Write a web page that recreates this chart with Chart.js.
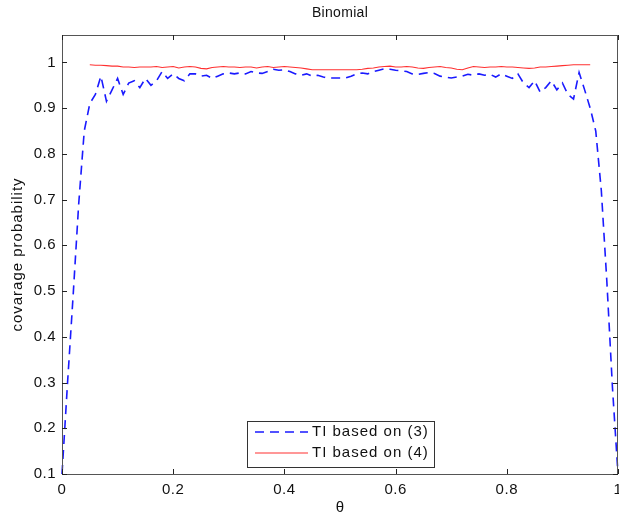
<!DOCTYPE html>
<html>
<head>
<meta charset="utf-8">
<script src="https://cdn.jsdelivr.net/npm/chart.js@4"></script>
<style>
  html, body { margin: 0; padding: 0; background: #fff; }
  #wrap { width: 619px; height: 519px; }
</style>
</head>
<body>
<div id="wrap"><canvas id="coverChart" width="619" height="519"></canvas></div>
<script>
// theta grid step for both series
const thetaStep = 0.01;

// TI based on (3): theta = 0 .. 1
const blueStart = 0;
const blueCoverage = [
    0.10, 0.30, 0.49, 0.69, 0.85, 0.91, 0.93, 0.97, 0.915, 0.94,
    0.965, 0.93, 0.955, 0.96, 0.945, 0.965, 0.95, 0.96, 0.98, 0.965,
    0.975, 0.965, 0.96, 0.975, 0.975, 0.97, 0.972, 0.965, 0.97, 0.975,
    0.977, 0.975, 0.977, 0.975, 0.98, 0.977, 0.976, 0.98, 0.985, 0.983,
    0.984, 0.98, 0.975, 0.972, 0.975, 0.97, 0.972, 0.968, 0.966, 0.966,
    0.966, 0.966, 0.97, 0.975, 0.977, 0.975, 0.98, 0.983, 0.986, 0.985,
    0.983, 0.982, 0.98, 0.975, 0.974, 0.976, 0.978, 0.976, 0.97, 0.968,
    0.966, 0.968, 0.97, 0.974, 0.972, 0.975, 0.972, 0.974, 0.968, 0.975,
    0.97, 0.965, 0.975, 0.955, 0.945, 0.96, 0.935, 0.945, 0.96, 0.94,
    0.955, 0.93, 0.92, 0.978, 0.94, 0.90, 0.85, 0.72, 0.52, 0.29,
    0.10
];

// TI based on (4): theta = 0.05 .. 0.95
const redStart = 0.05;
const redCoverage = [
    0.995, 0.994, 0.994, 0.993, 0.992, 0.992,
    0.990, 0.990, 0.989, 0.990, 0.990, 0.990, 0.991, 0.989, 0.990, 0.991,
    0.988, 0.990, 0.991, 0.990, 0.987, 0.986, 0.989, 0.990, 0.991, 0.990,
    0.990, 0.989, 0.990, 0.990, 0.988, 0.990, 0.991, 0.989, 0.990, 0.991,
    0.990, 0.989, 0.988, 0.986, 0.984, 0.984, 0.984, 0.984, 0.984, 0.984,
    0.984, 0.984, 0.984, 0.985, 0.987, 0.988, 0.990, 0.991, 0.992, 0.990,
    0.990, 0.991, 0.990, 0.988, 0.987, 0.989, 0.990, 0.991, 0.989, 0.988,
    0.985, 0.984, 0.988, 0.991, 0.990, 0.989, 0.990, 0.990, 0.991, 0.990,
    0.990, 0.989, 0.988, 0.987, 0.988, 0.990, 0.990, 0.991, 0.992, 0.993,
    0.994, 0.995, 0.995, 0.995, 0.995
];

const seriesLabels = ['TI based on (3)', 'TI based on (4)'];
const xTicks = [0, 0.2, 0.4, 0.6, 0.8, 1];
const yTicks = [0.1, 0.2, 0.3, 0.4, 0.5, 0.6, 0.7, 0.8, 0.9, 1];

const toPoints = (start, values) =>
    values.map((v, i) => ({ x: +(start + i * thetaStep).toFixed(2), y: v }));

const FONT = '"Liberation Sans", Arial, Helvetica, sans-serif';

// draws the MATLAB style frame, inward ticks, labels and legend
const matlabFrame = {
    id: 'matlabFrame',
    afterDatasetsDraw(chart) {
        const { ctx, chartArea: a, scales } = chart;
        const xs = scales.x, ys = scales.y;
        ctx.save();

        // box
        ctx.strokeStyle = '#555';
        ctx.lineWidth = 1;
        ctx.strokeRect(a.left + 0.5, a.top + 0.5, a.right - a.left - 1, a.bottom - a.top);

        // ticks
        ctx.strokeStyle = '#222';
        ctx.beginPath();
        xTicks.forEach(v => {
            const px = Math.round(xs.getPixelForValue(v)) + 0.5;
            ctx.moveTo(px, a.bottom); ctx.lineTo(px, a.bottom - 5);
            ctx.moveTo(px, a.top); ctx.lineTo(px, a.top + 5);
        });
        yTicks.forEach(v => {
            const py = Math.round(ys.getPixelForValue(v)) + 0.5;
            ctx.moveTo(a.left, py); ctx.lineTo(a.left + 5, py);
            ctx.moveTo(a.right, py); ctx.lineTo(a.right - 5, py);
        });
        ctx.stroke();

        // tick labels
        ctx.fillStyle = '#111';
        ctx.font = '15px ' + FONT;
        ctx.letterSpacing = '0.5px';
        ctx.textAlign = 'center';
        ctx.textBaseline = 'top';
        xTicks.forEach(v => {
            ctx.fillText(String(v), xs.getPixelForValue(v), a.bottom + 8);
        });
        ctx.textAlign = 'right';
        ctx.textBaseline = 'middle';
        yTicks.forEach(v => {
            ctx.fillText(String(v), a.left - 6, ys.getPixelForValue(v));
        });

        // title and axis labels
        ctx.textAlign = 'center';
        ctx.font = '14px ' + FONT;
        ctx.letterSpacing = '0.3px';
        ctx.fillText('Binomial', (a.left + a.right) / 2, 13);
        ctx.font = '15px ' + FONT;
        ctx.fillText('θ', (a.left + a.right) / 2, 508);
        ctx.letterSpacing = '1px';
        ctx.save();
        ctx.translate(18, (a.top + a.bottom) / 2);
        ctx.rotate(-Math.PI / 2);
        ctx.fillText('covarage probability', 0, 0);
        ctx.restore();

        // legend
        const lx = 247, ly = 421, lw = 187, lh = 46;
        ctx.fillStyle = '#fff';
        ctx.fillRect(lx, ly, lw, lh);
        ctx.strokeStyle = '#333';
        ctx.lineWidth = 1;
        ctx.strokeRect(lx + 0.5, ly + 0.5, lw, lh);
        chart.data.datasets.forEach((ds, i) => {
            const rowY = ly + 11 + i * 21;
            ctx.strokeStyle = ds.borderColor;
            ctx.lineWidth = ds.borderWidth;
            ctx.setLineDash(ds.borderDash || []);
            ctx.beginPath();
            ctx.moveTo(lx + 8, rowY);
            ctx.lineTo(lx + 61, rowY);
            ctx.stroke();
            ctx.setLineDash([]);
            ctx.fillStyle = '#111';
            ctx.textAlign = 'left';
            ctx.font = '15px ' + FONT;
            ctx.letterSpacing = '1px';
            ctx.fillText(ds.label, lx + 65, rowY);
        });

        ctx.restore();
    }
};

const coverChart = new Chart(document.getElementById('coverChart'), {
    type: 'line',
    data: {
        datasets: [
            {
                label: seriesLabels[0],
                data: toPoints(blueStart, blueCoverage),
                borderColor: '#1a1aff',
                borderWidth: 1.6,
                borderDash: [9, 6],
                pointRadius: 0,
                tension: 0,
                fill: false
            },
            {
                label: seriesLabels[1],
                data: toPoints(redStart, redCoverage),
                borderColor: '#ff3030',
                borderWidth: 1.1,
                pointRadius: 0,
                tension: 0,
                fill: false
            }
        ]
    },
    options: {
        responsive: false,
        animation: false,
        clip: false,
        layout: { padding: { left: 62, right: 1, top: 35, bottom: 45 } },
        plugins: {
            legend: { display: false },
            title: { display: false },
            tooltip: { enabled: false }
        },
        scales: {
            x: { type: 'linear', min: 0, max: 1, display: false },
            y: { type: 'linear', min: 0.1, max: 1.06, display: false }
        }
    },
    plugins: [matlabFrame]
});
</script>
</body>
</html>
